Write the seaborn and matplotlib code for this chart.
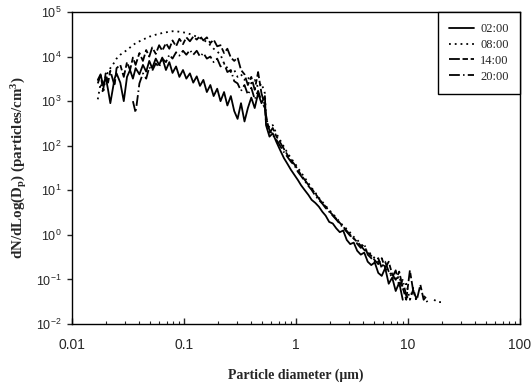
import numpy as np
import pandas as pd
import matplotlib
matplotlib.use("Agg")
import matplotlib.pyplot as plt
from matplotlib.ticker import FixedLocator, FixedFormatter, NullLocator, LogLocator, NullFormatter
import seaborn as sns

# diameters (um), SMPS part and APS part
d_smps = [0.017, 0.018, 0.019, 0.020, 0.021, 0.022, 0.024, 0.025, 0.027, 0.029,
          0.031, 0.033, 0.035, 0.037, 0.040, 0.043, 0.046, 0.049, 0.052, 0.056,
          0.060, 0.064, 0.069, 0.074, 0.079, 0.085, 0.091, 0.098, 0.105, 0.113,
          0.121, 0.130, 0.139, 0.149, 0.160, 0.172, 0.184, 0.198, 0.212, 0.228,
          0.244, 0.262, 0.281, 0.301, 0.323, 0.347, 0.372, 0.399, 0.428, 0.459,
          0.492, 0.528]
d_aps = [0.54, 0.58, 0.62, 0.67, 0.72, 0.78, 0.84, 0.90, 0.97, 1.04,
         1.11, 1.20, 1.29, 1.38, 1.49, 1.60, 1.72, 1.84, 1.98, 2.13,
         2.29, 2.46, 2.64, 2.84, 3.05, 3.28, 3.52, 3.79, 4.07, 4.37,
         4.70, 5.05, 5.43, 5.83, 6.26, 6.73, 7.23, 7.77, 8.35, 8.98,
         9.65, 10.4, 11.1, 12.0, 12.9, 13.8, 14.9, 16.0, 17.1, 18.4, 19.8]

nan = np.nan

# dN/dlogDp, particles/cm3
n02_smps = [3000, 4000, 2200, 3500, 1800, 900, 3200, 4200, 2600, 1000,
            3500, 5000, 3200, 5500, 4000, 6500, 4600, 8000, 5500, 9000,
            6500, 9500, 5000, 7500, 4300, 6000, 3500, 5000, 3200, 4200,
            2600, 3600, 2200, 3000, 1600, 2300, 1300, 1900, 1000, 1600,
            800, 1300, 600, 400, 900, 350, 700, 1200, 700, 1500,
            900, 1300]
n02_aps = [290, 160, 190, 120, 81, 53, 39, 29, 22, 17,
           13, 10, 7.9, 6.1, 5.2, 4.3, 3.3, 2.7, 1.95, 1.8,
           1.4, 1.15, 1.25, 0.77, 0.62, 0.67, 0.44, 0.36, 0.40, 0.25,
           0.21, 0.24, 0.14, 0.12, 0.18, 0.08, 0.11, 0.055, 0.085, 0.035,
           nan, nan, nan, nan, nan, nan, nan, nan, nan, nan, nan]

n08_smps = [1100, 2500, 1500, 3500, 4500, 5500, 7500, 9000, 11000, 12500,
            14000, 16000, 18000, 20000, 22000, 24000, 26000, 28000, 29000, 31000,
            32000, 34000, 35000, 36000, 37000, 37000, 36000, 35000, 34000, 32000,
            30000, 28000, 26000, 24000, 21000, 18000, 15000, 13000, 11000, 7000,
            5500, 4500, 5000, 3500, 4000, 3000, 3500, 2500, 3000, 2000,
            2500, 1500]
n08_aps = [410, 250, 290, 185, 135, 95, 69, 53, 41, 32,
           25, 19, 14.5, 11.3, 8.8, 6.8, 5.5, 4.5, 3.6, 3.0,
           2.4, 1.95, 1.59, 1.35, 1.12, 0.90, 0.77, 0.63, 0.51, 0.44,
           0.36, 0.30, 0.25, 0.21, 0.18, 0.15, 0.12, 0.098, 0.12, 0.058,
           0.080, 0.035, 0.065, 0.031, nan, 0.043, 0.031, nan, 0.035, 0.031, 0.031]

n14_smps = [2500, 3800, 1800, 4200, 2600, 4800, 2200, 5500, 6500, 3500,
            7500, 5000, 9500, 6500, 12000, 8000, 14000, 10000, 16000, 11500,
            18000, 13500, 20000, 15000, 23000, 17000, 25000, 19000, 27000, 22000,
            28000, 24000, 29000, 23000, 27000, 20000, 24000, 17000, 18000, 12000,
            15000, 9500, 8000, 9500, 5000, 4000, 2300, 3500, 1800, 4500,
            1500, 800]
n14_aps = [490, 195, 250, 160, 120, 85, 62, 48, 38, 29,
           22, 17, 13.2, 10.8, 8.4, 6.5, 5.2, 4.3, 3.4, 2.8,
           2.3, 1.86, 1.52, 1.23, 1.0, 0.82, 0.70, 0.57, 0.46, 0.40,
           0.34, 0.27, 0.22, 0.30, 0.18, 0.25, 0.13, 0.098, 0.15, 0.065,
           0.035, 0.16, 0.058, 0.035, 0.076, 0.035, 0.045, nan, nan, nan, nan]

n20_smps = [nan, nan, nan, nan, nan, nan, nan, nan, nan, nan,
            nan, nan, 1000, 550, 2500, 4200, 3200, 5800, 4800, 7000,
            5800, 9000, 7500, 11000, 9000, 12500, 10500, 13500, 11000, 14000,
            11000, 13500, 10000, 12000, 9000, 10000, 7500, 9000, 6000, 7000,
            4500, 5000, 2800, 2500, 1700, 2300, 1400, 2000, 1100, 1700,
            1000, 700]
n20_aps = [340, 226, 175, 135, 100, 72, 56, 44, 36, 26,
           21, 16, 12.5, 10.2, 7.5, 6.1, 5.0, 4.0, 3.3, 2.7,
           2.2, 1.77, 1.44, 1.17, 0.95, 0.86, 0.63, 0.51, 0.63, 0.36,
           0.30, 0.25, 0.30, 0.18, 0.25, 0.15, 0.11, 0.16, 0.072, 0.098,
           0.043, 0.035, 0.058, 0.031, nan, nan, nan, nan, nan, nan, nan]

times = ["02:00", "08:00", "14:00", "20:00"]
series = {
    "02:00": n02_smps + n02_aps,
    "08:00": n08_smps + n08_aps,
    "14:00": n14_smps + n14_aps,
    "20:00": n20_smps + n20_aps,
}
diam = d_smps + d_aps

# long table, with a segment id so NaN gaps stay as gaps
rows = []
for t in times:
    seg = 0
    for d, v in zip(diam, series[t]):
        if np.isnan(v):
            seg += 1
            continue
        rows.append({"d": d, "N": v, "time": t, "seg": t + "_" + str(seg)})
df = pd.DataFrame(rows)

sns.set_style("ticks")
plt.rcParams["font.family"] = ["Liberation Sans", "DejaVu Sans"]
plt.rcParams["mathtext.default"] = "regular"

fig, ax = plt.subplots(figsize=(5.32, 3.86), dpi=100)
fig.subplots_adjust(left=0.1353, right=0.9774, bottom=0.1606, top=0.9689)

styles = {"02:00": "", "08:00": (1, 2.2), "14:00": (6, 1.5, 3, 1.5), "20:00": (6, 1.8, 0.8, 1.8)}
sns.lineplot(data=df, x="d", y="N", style="time", style_order=times, units="seg",
             estimator=None, sort=False, dashes=styles, color="k", linewidth=1.3, ax=ax)

ax.set_xscale("log")
ax.set_yscale("log")
ax.set_xlim(0.01, 100)
ax.set_ylim(1e-2, 1e5)

ax.xaxis.set_major_locator(FixedLocator([0.01, 0.1, 1, 10, 100]))
ax.xaxis.set_major_formatter(FixedFormatter(["0.01", "0.1", "1", "10", "100"]))
ax.xaxis.set_minor_locator(LogLocator(base=10, subs=np.arange(2, 10)))
ax.xaxis.set_minor_formatter(NullFormatter())
ax.yaxis.set_major_locator(FixedLocator([10.0 ** k for k in range(-2, 6)]))
ax.yaxis.set_major_formatter(FixedFormatter(["$10^{%d}$" % k for k in range(-2, 6)]))
ax.yaxis.set_minor_locator(NullLocator())

ax.tick_params(axis="x", which="major", direction="in", length=4, width=1, pad=10, labelsize=10)
ax.tick_params(axis="x", which="minor", direction="in", length=2.5, width=0.8)
ax.tick_params(axis="y", which="major", direction="out", length=3.5, width=1, pad=4, labelsize=9)
for s in ax.spines.values():
    s.set_color("k")
    s.set_linewidth(1.0)

ax.set_xlabel("Particle diameter (\u03bcm)", fontfamily="Liberation Serif", fontweight="bold",
              fontsize=10, labelpad=12)
ax.set_ylabel("dN/dLog(D$_p$) (particles/cm$^3$)", fontfamily="Liberation Serif",
              fontweight="bold", fontsize=10.8, labelpad=5)

handles, labels = ax.get_legend_handles_labels()
leg = ax.legend(handles, labels, loc="upper right", borderaxespad=0, fancybox=False,
                framealpha=1, edgecolor="k", prop={"family": "Liberation Serif", "size": 9},
                handlelength=2.0, labelspacing=0.3, borderpad=0.9, handletextpad=0.5)
leg.get_frame().set_linewidth(1.0)

plt.savefig("out.png", dpi=100)
